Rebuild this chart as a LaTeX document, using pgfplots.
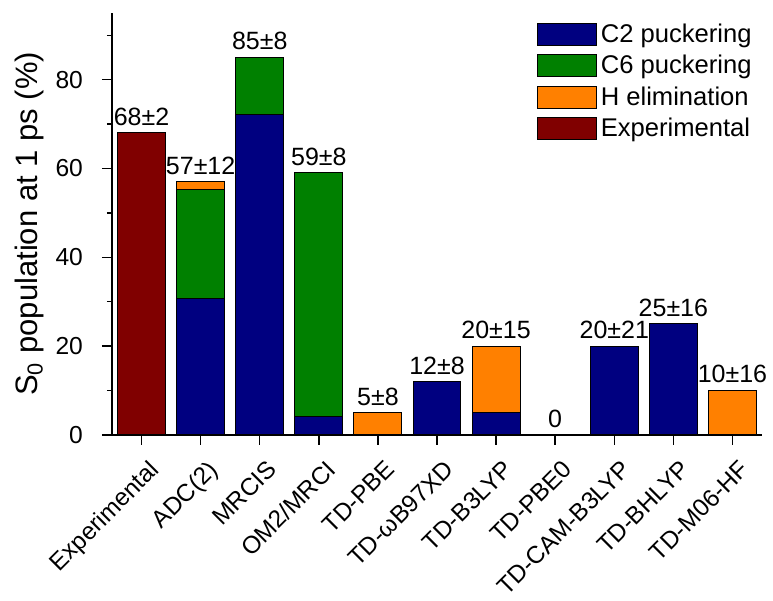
\documentclass[border=0pt]{standalone}
\usepackage{pgfplots}
\pgfplotsset{compat=1.18}
\usepackage{fontspec}
\setmainfont{Liberation Sans}
\definecolor{cnavy}{RGB}{0,0,128}
\definecolor{cgreen}{RGB}{0,128,0}
\definecolor{corange}{RGB}{255,128,0}
\definecolor{cdred}{RGB}{128,0,0}
\tikzset{lbl/.style={anchor=south, inner sep=0pt, yshift=3.5pt, font=\fontsize{12.5}{14}\selectfont}}
\pgfplotsset{boxlegend/.style={legend image code/.code={\draw[##1,draw=black,line width=0.5pt] (0pt,-5.5pt) rectangle (29.5pt,5.5pt);}}}
\begin{document}
\begin{tikzpicture}
\begin{axis}[
  width=325pt, height=211pt, scale only axis,
  ybar stacked, bar width=0.81,
  xmin=-0.5, xmax=10.5, ymin=0, ymax=95,
  axis x line*=bottom, axis y line*=left,
  axis line style={-, line width=0.8pt},
  tick align=outside,
  major tick length=5pt, minor tick length=2.5pt,
  tick style={black, line width=0.7pt},
  xtick={0,...,10},
  xticklabels={Experimental, ADC(2), MRCIS, OM2/MRCI, TD-PBE, TD-ωB97XD, TD-B3LYP, TD-PBE0, TD-CAM-B3LYP, TD-BHLYP, TD-M06-HF},
  xticklabel style={xshift=3pt, rotate=45, anchor=north east, font=\fontsize{12.2}{14}\selectfont},
  xticklabel shift=2pt,
  ytick={0,20,40,60,80}, minor ytick={10,30,50,70,90},
  yticklabel style={xshift=-6pt, font=\fontsize{12.3}{14}\selectfont},
  /pgf/number format/assume math mode=true,
  ylabel={S\textsubscript{0} population at 1 ps (\%)},
  ylabel style={font=\fontsize{15.5}{17}\selectfont, yshift=-1pt},
  legend cell align=left,
  legend style={draw=none, fill=none, at={(1.0,0.995)}, anchor=north east,
    font=\fontsize{12.8}{14}\selectfont, row sep=1pt},
  boxlegend,
  every axis plot/.append style={draw=black, line width=0.5pt},
  clip=false,
]
\addplot[fill=cnavy] coordinates {(0,0) (1,30.8) (2,72.2) (3,4.1) (4,0) (5,12) (6,5) (7,0) (8,20) (9,25) (10,0)};
\addplot[fill=cgreen] coordinates {(0,0) (1,24.4) (2,12.8) (3,54.9) (4,0) (5,0) (6,0) (7,0) (8,0) (9,0) (10,0)};
\addplot[fill=corange] coordinates {(0,0) (1,1.8) (2,0) (3,0) (4,5) (5,0) (6,15) (7,0) (8,0) (9,0) (10,10)};
\addplot[fill=cdred] coordinates {(0,68) (1,0) (2,0) (3,0) (4,0) (5,0) (6,0) (7,0) (8,0) (9,0) (10,0)};
\legend{C2 puckering, C6 puckering, H elimination, Experimental}
\node[lbl] at (axis cs:0,68) {68±2};
\node[lbl] at (axis cs:1,57) {57±12};
\node[lbl] at (axis cs:2,85) {85±8};
\node[lbl] at (axis cs:3,59) {59±8};
\node[lbl] at (axis cs:4,5) {5±8};
\node[lbl] at (axis cs:5,12) {12±8};
\node[lbl] at (axis cs:6,20) {20±15};
\node[lbl] at (axis cs:7,0) {0};
\node[lbl] at (axis cs:8,20) {20±21};
\node[lbl] at (axis cs:9,25) {25±16};
\node[lbl] at (axis cs:10,10) {10±16};
\coordinate (bbsw) at (rel axis cs:-0.1723,-0.3934);
\coordinate (bbne) at (rel axis cs:1.0169,1.0308);
\end{axis}
\pgfresetboundingbox
\path[use as bounding box] (bbsw) rectangle (bbne);
\end{tikzpicture}
\end{document}
